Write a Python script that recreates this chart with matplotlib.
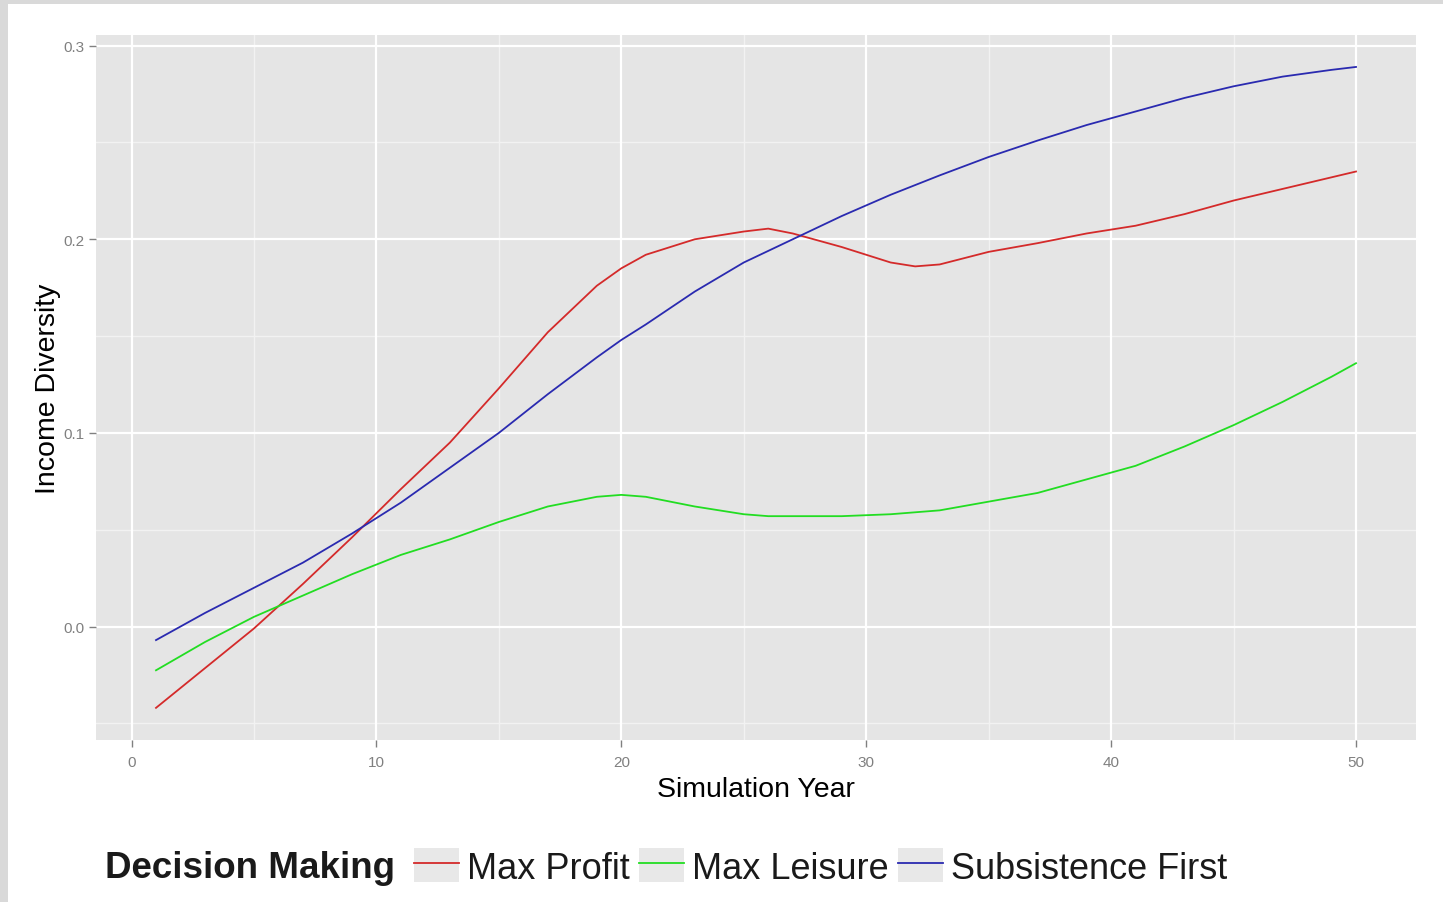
import matplotlib
matplotlib.use('Agg')
import matplotlib.pyplot as plt
from matplotlib.patches import Patch, Rectangle
from matplotlib.lines import Line2D

plt.rcParams['font.family'] = ['Liberation Sans', 'DejaVu Sans']

# values
years = [1, 3, 5, 7, 9, 11, 13, 15, 17, 19, 20, 21, 23, 25, 26, 27, 29, 31, 32, 33,
         35, 37, 39, 41, 43, 45, 47, 49, 50]
max_profit = [-0.042, -0.0215, -0.001, 0.022, 0.046, 0.071, 0.095, 0.123, 0.152, 0.176,
              0.185, 0.192, 0.200, 0.204, 0.2055, 0.203, 0.196, 0.188, 0.186, 0.187,
              0.1935, 0.198, 0.203, 0.207, 0.213, 0.220, 0.226, 0.232, 0.235]
max_leisure = [-0.0226, -0.008, 0.005, 0.016, 0.027, 0.037, 0.045, 0.054, 0.062, 0.067,
               0.068, 0.067, 0.062, 0.058, 0.057, 0.057, 0.057, 0.058, 0.059, 0.060,
               0.0645, 0.069, 0.076, 0.083, 0.093, 0.104, 0.116, 0.129, 0.136]
subsistence = [-0.007, 0.007, 0.020, 0.033, 0.048, 0.064, 0.082, 0.100, 0.120, 0.139,
               0.148, 0.156, 0.173, 0.188, 0.194, 0.200, 0.212, 0.223, 0.228, 0.233,
               0.2425, 0.251, 0.259, 0.266, 0.273, 0.279, 0.284, 0.2875, 0.289]

series_names = ['Max Profit', 'Max Leisure', 'Subsistence First']
series_colors = ['#d42a2a', '#22dd22', '#2a2ab0']

x_ticks = [0, 10, 20, 30, 40, 50]
x_minor = [5, 15, 25, 35, 45]
y_ticks = [0.0, 0.1, 0.2, 0.3]
y_minor = [-0.05, 0.05, 0.15, 0.25]

W, H = 1443, 903
fig = plt.figure(figsize=(W / 100, H / 100), dpi=100)
fig.patch.set_facecolor('white')

# light grey frame strips on the left and top edge
fig.add_artist(Rectangle((0, 0), 8 / W, 1, transform=fig.transFigure,
                         facecolor='#d9d9d9', edgecolor='none'))
fig.add_artist(Rectangle((0, 1 - 5 / H), 1, 5 / H, transform=fig.transFigure,
                         facecolor='#d9d9d9', edgecolor='none'))

ax = fig.add_axes([96 / W, 1 - 741 / H, (1416 - 96) / W, (741 - 36) / H])
ax.set_facecolor('#e5e5e5')
for s in ax.spines.values():
    s.set_visible(False)

for xm in x_minor:
    ax.axvline(xm, color='#f2f2f2', lw=1.0, zorder=0)
for ym in y_minor:
    ax.axhline(ym, color='#f2f2f2', lw=1.0, zorder=0)
for xt in x_ticks:
    ax.axvline(xt, color='white', lw=1.6, zorder=0)
for yt in y_ticks:
    ax.axhline(yt, color='white', lw=1.6, zorder=0)

data = [max_profit, max_leisure, subsistence]
for vals, name, col in zip(data, series_names, series_colors):
    ax.plot(years, vals, color=col, lw=1.3, label=name, zorder=3)

ax.set_xlim(-1.45, 52.45)
ax.set_ylim(-0.0586, 0.3055)
ax.set_xticks(x_ticks)
ax.set_xticklabels([str(t) for t in x_ticks])
ax.set_yticks(y_ticks)
ax.set_yticklabels(['%.1f' % t for t in y_ticks])
ax.tick_params(axis='both', length=5, width=1, color='#808080', labelcolor='#808080',
               labelsize=11)
ax.tick_params(axis='x', pad=6)
ax.tick_params(axis='y', pad=3)

ax.set_xlabel('Simulation Year', fontsize=20.5, color='black', labelpad=5)
ax.set_ylabel('Income Diversity', fontsize=20.5, color='black', labelpad=2)

# legend along the bottom, title to the left of the keys
fig.text(105 / W, 1 - 869 / H, 'Decision Making', fontsize=26.5, fontweight='bold',
         color='#1a1a1a', ha='left', va='center')
handles = [(Patch(facecolor='#e8e8e8', edgecolor='none'),
            Line2D([], [], color=c, lw=1.3)) for c in series_colors]
fig.legend(handles, series_names, loc='center left',
           bbox_to_anchor=(414 / W, 1 - 868 / H), bbox_transform=fig.transFigure,
           ncol=3, frameon=False, fontsize=26, borderpad=0, borderaxespad=0,
           handlelength=1.25, handleheight=1.05, handletextpad=0.22,
           columnspacing=0.25, labelcolor='#1a1a1a')

plt.savefig('out.png', dpi=100)
